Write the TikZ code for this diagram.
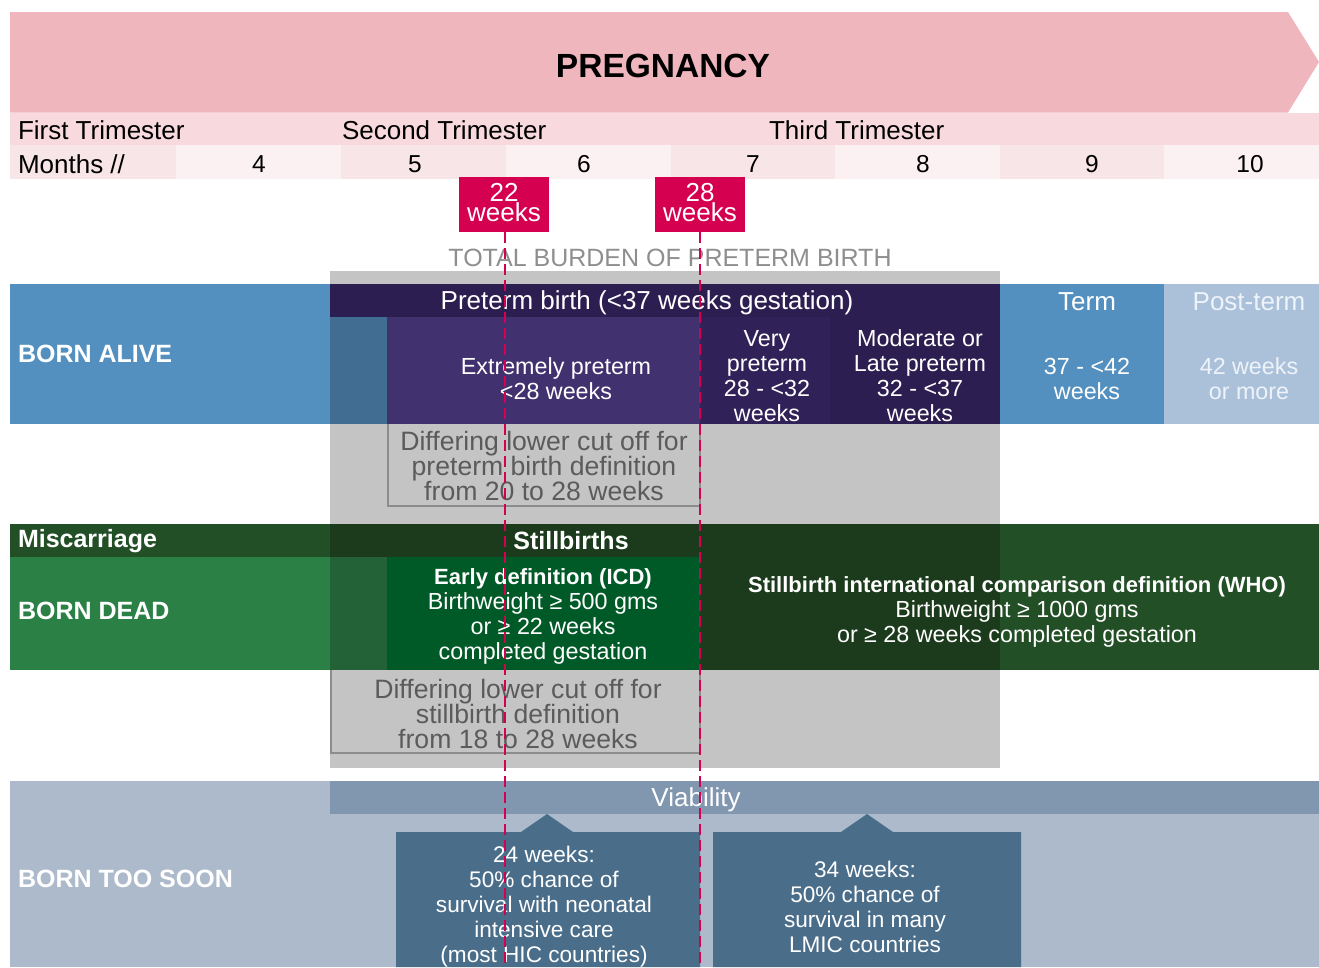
\documentclass[tikz,border=0pt]{standalone}
\usepackage{fontspec}
\setmainfont{Liberation Sans}
\definecolor{pregpink}{HTML}{EFB6BD}
\definecolor{trirow}{HTML}{F8DADE}
\definecolor{mdark}{HTML}{F8E5E7}
\definecolor{mlight}{HTML}{FBF1F2}
\definecolor{crimson}{HTML}{D5004F}
\definecolor{burden}{HTML}{C4C4C4}
\definecolor{burdentxt}{HTML}{8E8E8E}
\definecolor{difftxt}{HTML}{5B5B5B}
\definecolor{diffline}{HTML}{8C8C8C}
\definecolor{balive}{HTML}{5390BF}
\definecolor{bovl}{HTML}{416D92}
\definecolor{ptdark}{HTML}{2C1E50}
\definecolor{extp}{HTML}{41316F}
\definecolor{veryp}{HTML}{302259}
\definecolor{postt}{HTML}{ABC1DA}
\definecolor{posttxt}{HTML}{EEF3F9}
\definecolor{mischd}{HTML}{234F27}
\definecolor{gdark}{HTML}{1C3B1C}
\definecolor{bdead}{HTML}{2A8045}
\definecolor{govl}{HTML}{226236}
\definecolor{early}{HTML}{005A27}
\definecolor{bts}{HTML}{ADBACB}
\definecolor{viab}{HTML}{8197B0}
\definecolor{callout}{HTML}{4A6D8A}
\newcommand{\bsmall}[1]{{\bfseries\fontsize{22}{25}\selectfont #1}}
\begin{document}
\begin{tikzpicture}[x=1pt,y=-1pt,
  base/.style={inner sep=0pt, outer sep=0pt, align=center},
  reg/.style={base, font=\fontsize{26}{25}\selectfont},
  num/.style={base, font=\fontsize{24.5}{25}\selectfont},
  sml/.style={base, font=\fontsize{23.3}{25}\selectfont, text=white},
  cal/.style={base, font=\fontsize{22.6}{25}\selectfont, text=white},
  bld/.style={base, font=\bfseries\fontsize{25}{25}\selectfont},
  markerbox/.style={base, fill=crimson, minimum width=90pt, minimum height=55pt},
  markertxt/.style={base, text=white, font=\fontsize{26}{21}\selectfont, text height=18pt, text depth=0pt},
  cutline/.style={draw=crimson, line width=2.3pt, dash pattern=on 11pt off 5pt},
  diffbox/.style={draw=diffline, line width=2.5pt},
  difftext/.style={base, text=difftxt, font=\fontsize{26.6}{25}\selectfont}]
\useasboundingbox (0,0) rectangle (1319,967);
% pregnancy header
\fill[pregpink] (10,12) -- (1288,12) -- (1319,62) -- (1288,112.5) -- (10,112.5) -- cycle;
\node[bld, font=\bfseries\fontsize{33.5}{33}\selectfont] (preg) at (663,66) {PREGNANCY};
\fill[trirow] (10,112.5) rectangle (1319,145);
\node[reg, anchor=west] (tri1) at (18,130) {First Trimester};
\node[reg, anchor=west] (tri2) at (342,130) {Second Trimester};
\node[reg, anchor=west] (tri3) at (769,130) {Third Trimester};
\fill[mdark] (10,145) rectangle (176,179);
\fill[mlight] (176,145) rectangle (341,179);
\fill[mdark] (341,145) rectangle (506,179);
\fill[mlight] (506,145) rectangle (671,179);
\fill[mdark] (671,145) rectangle (835,179);
\fill[mlight] (835,145) rectangle (1000,179);
\fill[mdark] (1000,145) rectangle (1164,179);
\fill[mlight] (1164,145) rectangle (1319,179);
\node[reg, anchor=west] (months) at (18,164) {Months //};
\node[num] (m4) at (259,164) {4};
\node[num] (m5) at (415,164) {5};
\node[num] (m6) at (584,164) {6};
\node[num] (m7) at (753,164) {7};
\node[num] (m8) at (923,164) {8};
\node[num] (m9) at (1092,164) {9};
\node[num] (m10) at (1250,164) {10};
% markers
\node[markerbox] (w22) at (504,204.5) {};
\node[markerbox] (w28) at (700,204.5) {};
\node[markertxt] (w22a) at (504,192) {22};
\node[markertxt] (w22b) at (504,212.5) {weeks};
\node[markertxt] (w28a) at (700,192) {28};
\node[markertxt] (w28b) at (700,212.5) {weeks};
% total burden background
\fill[burden] (330,271) rectangle (1000,768);
\node[base, text=burdentxt, font=\fontsize{25}{25}\selectfont] (burdenlbl) at (670,258) {TOTAL BURDEN OF PRETERM BIRTH};
% differing boxes
\draw[diffbox] (388,420) rectangle (700,506);
\draw[diffbox] (331,666) rectangle (700,753);
% born alive row
\fill[balive] (10,284) rectangle (330,424);
\fill[ptdark] (330,284) rectangle (1000,317);
\fill[bovl] (330,317) rectangle (387,424);
\fill[extp] (387,317) rectangle (700,424);
\fill[veryp] (700,317) rectangle (830,424);
\fill[ptdark] (830,317) rectangle (1000,424);
\fill[balive] (1000,284) rectangle (1164,424);
\fill[postt] (1164,284) rectangle (1319,424);
\node[bld, text=white, anchor=west] (alive) at (18,354) {BORN ALIVE};
\node[reg, text=white] (ptb) at (647,303) {Preterm birth (<37 weeks gestation)};
\node[sml] (ext) at (556,379) {Extremely preterm\\<28 weeks};
\node[sml] (very) at (767,376) {Very\\preterm\\28 - <32\\weeks};
\node[sml] (mod) at (920,376) {Moderate or\\Late preterm\\32 - <37\\weeks};
\node[reg, text=white] (term) at (1087,302) {Term};
\node[sml] (termw) at (1087,379) {37 - <42\\weeks};
\node[reg, text=posttxt] (post) at (1249,302) {Post-term};
\node[sml, text=posttxt] (postw) at (1249,379) {42 weeks\\or more};
\node[difftext] (diff1) at (544,466) {Differing lower cut off for\\preterm birth definition\\from 20 to 28 weeks};
% born dead row
\fill[mischd] (10,524) rectangle (330,557);
\fill[gdark] (330,524) rectangle (1000,557);
\fill[mischd] (1000,524) rectangle (1319,670);
\fill[bdead] (10,557) rectangle (330,670);
\fill[govl] (330,557) rectangle (387,670);
\fill[early] (387,557) rectangle (700,670);
\fill[gdark] (700,557) rectangle (1000,670);
\node[bld, text=white, anchor=west] (misc) at (18,541) {Miscarriage};
\node[bld, text=white] (still) at (571,541) {Stillbirths};
\node[bld, text=white, anchor=west] (dead) at (18,611) {BORN DEAD};
\node[sml] (icd) at (543,616) {\bsmall{Early definition (ICD)}\\Birthweight ≥ 500 gms\\or ≥ 22 weeks\\completed gestation};
\node[sml] (who) at (1017,612) {\bsmall{Stillbirth international comparison definition (WHO)}\\Birthweight ≥ 1000 gms\\or ≥ 28 weeks completed gestation};
\node[difftext] (diff2) at (518,714) {Differing lower cut off for\\stillbirth definition\\from 18 to 28 weeks};
% born too soon
\fill[bts] (10,781) rectangle (1319,967);
\fill[viab] (330,781) rectangle (1319,814);
\node[reg, text=white] (viability) at (696,800) {Viability};
\node[bld, text=white, anchor=west] (soon) at (18,879) {BORN TOO SOON};
\fill[callout] (396,832) -- (521,832) -- (547,814) -- (573,832) -- (700,832) -- (700,967) -- (396,967) -- cycle;
\fill[callout] (713,832) -- (841,832) -- (867,814) -- (893,832) -- (1021,832) -- (1021,967) -- (713,967) -- cycle;
\node[cal] (c24) at (544,907) {24 weeks:\\50\% chance of\\survival with neonatal\\intensive care\\(most HIC countries)};
\node[cal] (c34) at (865,907) {34 weeks:\\50\% chance of\\survival in many\\LMIC countries};
% cut lines
\coordinate (e22) at (505,967);
\coordinate (e28) at (700,967);
\draw[cutline] (w22.south -| e22) -- (e22);
\draw[cutline] (w28.south -| e28) -- (e28);
\end{tikzpicture}
\end{document}
